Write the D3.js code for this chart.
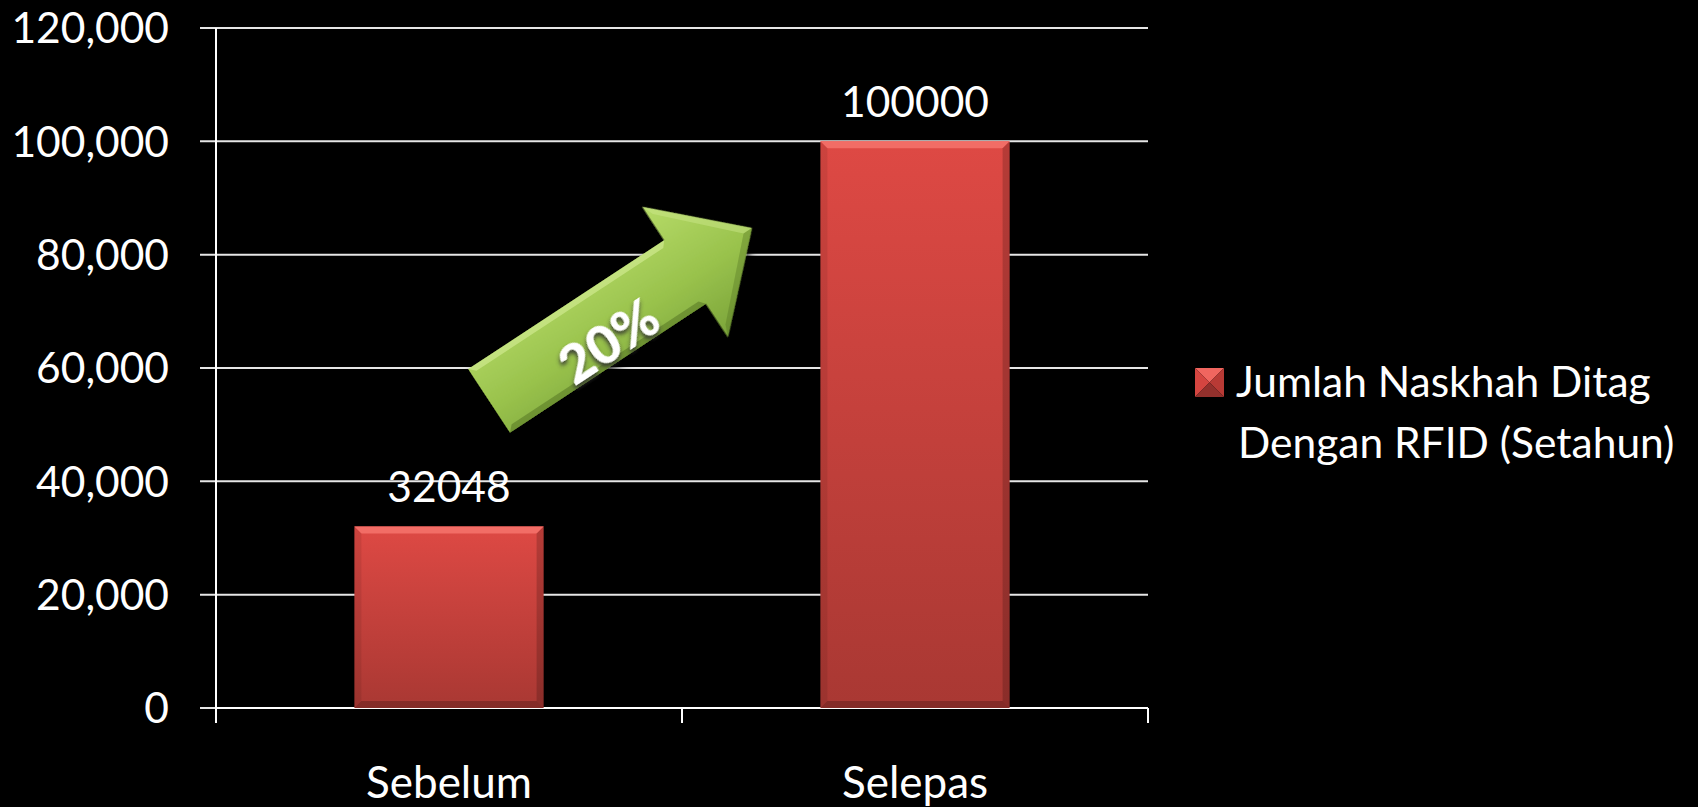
<!DOCTYPE html>
<html>
<head>
<meta charset="utf-8">
<script src="https://cdn.jsdelivr.net/npm/d3@7"></script>
<style>
  html, body { margin: 0; padding: 0; background: #000; }
  svg { display: block; }
  text { font-family: Lato, "Open Sans", sans-serif; fill: #fff; }
</style>
</head>
<body>
<script>
// data
const categories = ["Sebelum", "Selepas"];
const values = [32048, 100000];
const seriesName = ["Jumlah Naskhah Ditag", "Dengan RFID (Setahun)"];
const yTicks = [0, 20000, 40000, 60000, 80000, 100000, 120000];
const arrowLabel = "20%";
// arrow annotation: [category index, value] for tail centre and tip
const arrowTail = [0.086, 54200];
const arrowTip = [0.65, 84700];

const W = 1698, H = 807;
const margin = { top: 28, right: 550, bottom: 99, left: 216 },
  width = W - margin.left - margin.right,
  height = H - margin.top - margin.bottom;

const svg = d3.select("body").append("svg")
  .attr("width", W)
  .attr("height", H);

const defs = svg.append("defs");

const barGrad = defs.append("linearGradient")
  .attr("id", "barGrad").attr("x1", 0).attr("y1", 0).attr("x2", 0).attr("y2", 1);
barGrad.append("stop").attr("offset", "0%").attr("stop-color", "#de4944");
barGrad.append("stop").attr("offset", "100%").attr("stop-color", "#a93833");

const arrowGrad = defs.append("linearGradient")
  .attr("id", "arrowGrad").attr("x1", 0).attr("y1", 0).attr("x2", 0).attr("y2", 1);
arrowGrad.append("stop").attr("offset", "0%").attr("stop-color", "#b6db68");
arrowGrad.append("stop").attr("offset", "55%").attr("stop-color", "#99c24c");
arrowGrad.append("stop").attr("offset", "100%").attr("stop-color", "#7ba43a");

const shadow = defs.append("filter").attr("id", "txtShadow")
  .attr("x", "-30%").attr("y", "-30%").attr("width", "160%").attr("height", "160%");
shadow.append("feDropShadow")
  .attr("dx", -2).attr("dy", 3).attr("stdDeviation", 2)
  .attr("flood-color", "#333").attr("flood-opacity", 0.9);

const arrowShadow = defs.append("filter").attr("id", "arrowShadow")
  .attr("x", "-20%").attr("y", "-20%").attr("width", "140%").attr("height", "140%");
arrowShadow.append("feDropShadow")
  .attr("dx", 0).attr("dy", 4).attr("stdDeviation", 4)
  .attr("flood-color", "#000").attr("flood-opacity", 0.8);

const g = svg.append("g")
  .attr("transform", `translate(${margin.left},${margin.top})`);

const x = d3.scaleBand()
  .domain(categories)
  .range([0, width])
  .paddingInner(0.594)
  .paddingOuter(0.297);

const xi = d3.scaleLinear().domain([-0.5, categories.length - 0.5]).range([0, width]);

const y = d3.scaleLinear()
  .domain([0, 120000])
  .range([height, 0]);

const fmt = d3.format(",");

// gridlines
g.append("g")
  .selectAll("line")
  .data(yTicks)
  .join("line")
  .attr("x1", -16)
  .attr("x2", width)
  .attr("y1", d => y(d))
  .attr("y2", d => y(d))
  .attr("stroke", "#e6e6e6")
  .attr("stroke-width", 2);

// y axis labels
g.append("g")
  .selectAll("text")
  .data(yTicks)
  .join("text")
  .attr("x", -47)
  .attr("y", d => y(d))
  .attr("dy", "0.36em")
  .attr("text-anchor", "end")
  .attr("font-size", 42.5)
  .text(d => fmt(d));

// x axis
g.append("line")
  .attr("x1", 0).attr("x2", width)
  .attr("y1", height).attr("y2", height)
  .attr("stroke", "#fff").attr("stroke-width", 2);
g.append("line")
  .attr("x1", 0).attr("x2", 0)
  .attr("y1", 0).attr("y2", height)
  .attr("stroke", "#fff").attr("stroke-width", 2);
g.append("g")
  .selectAll("line")
  .data(d3.range(categories.length + 1))
  .join("line")
  .attr("x1", d => xi(d - 0.5))
  .attr("x2", d => xi(d - 0.5))
  .attr("y1", height)
  .attr("y2", height + 15)
  .attr("stroke", "#fff").attr("stroke-width", 2);

g.append("g")
  .selectAll("text")
  .data(categories)
  .join("text")
  .attr("x", d => x(d) + x.bandwidth() / 2)
  .attr("y", height + 90)
  .attr("text-anchor", "middle")
  .attr("font-size", 44)
  .text(d => d);

// bars
const bev = 7;
const bars = g.append("g")
  .selectAll("g")
  .data(categories.map((c, i) => ({ c, v: values[i] })))
  .join("g");

bars.append("rect")
  .attr("x", d => x(d.c))
  .attr("y", d => y(d.v))
  .attr("width", x.bandwidth())
  .attr("height", d => y(0) - y(d.v))
  .attr("fill", "url(#barGrad)");

// bevel edges
bars.append("polygon")
  .attr("points", d => {
    const x0 = x(d.c), x1 = x0 + x.bandwidth(), y0 = y(d.v);
    return [[x0, y0], [x1, y0], [x1 - bev, y0 + bev], [x0 + bev, y0 + bev]].join(" ");
  })
  .attr("fill", "#f26d66");
bars.append("polygon")
  .attr("points", d => {
    const x0 = x(d.c), y0 = y(d.v), y1 = y(0);
    return [[x0, y0], [x0 + bev, y0 + bev], [x0 + bev, y1 - bev], [x0, y1]].join(" ");
  })
  .attr("fill", "#000").attr("fill-opacity", 0.08);
bars.append("polygon")
  .attr("points", d => {
    const x1 = x(d.c) + x.bandwidth(), y0 = y(d.v), y1 = y(0);
    return [[x1, y0], [x1 - bev, y0 + bev], [x1 - bev, y1 - bev], [x1, y1]].join(" ");
  })
  .attr("fill", "#000").attr("fill-opacity", 0.18);
bars.append("polygon")
  .attr("points", d => {
    const x0 = x(d.c), x1 = x0 + x.bandwidth(), y1 = y(0);
    return [[x0, y1], [x0 + bev, y1 - bev], [x1 - bev, y1 - bev], [x1, y1]].join(" ");
  })
  .attr("fill", "#000").attr("fill-opacity", 0.22);

// data labels
bars.append("text")
  .attr("x", d => x(d.c) + x.bandwidth() / 2)
  .attr("y", d => y(d.v) - 24)
  .attr("text-anchor", "middle")
  .attr("font-size", 42.5)
  .text(d => d.v);

// arrow annotation
const ax0 = xi(arrowTail[0]), ay0 = y(arrowTail[1]);
const ax1 = xi(arrowTip[0]), ay1 = y(arrowTip[1]);
const L = Math.hypot(ax1 - ax0, ay1 - ay0);
const ang = Math.atan2(ay1 - ay0, ax1 - ax0) * 180 / Math.PI;
const sw = 38, hw = 78, hl = 80;

const arrow = g.append("g")
  .attr("transform", `translate(${ax0},${ay0}) rotate(${ang})`);

arrow.append("path")
  .attr("d", d3.line()([[0, -sw], [L - hl, -sw], [L - hl, -hw], [L, 0], [L - hl, hw], [L - hl, sw], [0, sw]]) + "Z")
  .attr("fill", "url(#arrowGrad)")
  .attr("filter", "url(#arrowShadow)");
// bevel highlight/shade
arrow.append("path")
  .attr("d", d3.line()([[0, -sw], [L - hl, -sw], [L - hl - 5, -sw + 6], [6, -sw + 6]]) + "Z")
  .attr("fill", "#cfe98f").attr("fill-opacity", 0.7);
arrow.append("path")
  .attr("d", d3.line()([[L - hl, -hw], [L, 0], [L - 10, 0], [L - hl + 5, -hw + 12]]) + "Z")
  .attr("fill", "#cfe98f").attr("fill-opacity", 0.45);
arrow.append("path")
  .attr("d", d3.line()([[0, sw], [L - hl, sw], [L - hl - 5, sw - 6], [6, sw - 6]]) + "Z")
  .attr("fill", "#4f7020").attr("fill-opacity", 0.5);
arrow.append("path")
  .attr("d", d3.line()([[L - hl, hw], [L, 0], [L - 10, 0], [L - hl + 5, hw - 12]]) + "Z")
  .attr("fill", "#4f7020").attr("fill-opacity", 0.35);

arrow.append("text")
  .attr("x", 133)
  .attr("y", 16)
  .attr("dy", "0.35em")
  .attr("text-anchor", "middle")
  .attr("font-size", 54)
  .attr("font-weight", 900)
  .attr("filter", "url(#txtShadow)")
  .text(arrowLabel);

// legend
const lg = svg.append("g")
  .attr("transform", `translate(1195,368)`);
const s = 29, c = s / 2;
lg.append("polygon").attr("points", `0,0 ${s},0 ${c},${c}`).attr("fill", "#f0665f");
lg.append("polygon").attr("points", `0,0 ${c},${c} 0,${s}`).attr("fill", "#d54540");
lg.append("polygon").attr("points", `${s},0 ${c},${c} ${s},${s}`).attr("fill", "#b83a35");
lg.append("polygon").attr("points", `0,${s} ${c},${c} ${s},${s}`).attr("fill", "#93302c");

lg.append("text")
  .attr("font-size", 42.5)
  .selectAll("tspan")
  .data(seriesName)
  .join("tspan")
  .attr("x", (d, i) => i === 0 ? 41 : 43)
  .attr("y", (d, i) => 29 + i * 61)
  .text(d => d);
</script>
</body>
</html>
